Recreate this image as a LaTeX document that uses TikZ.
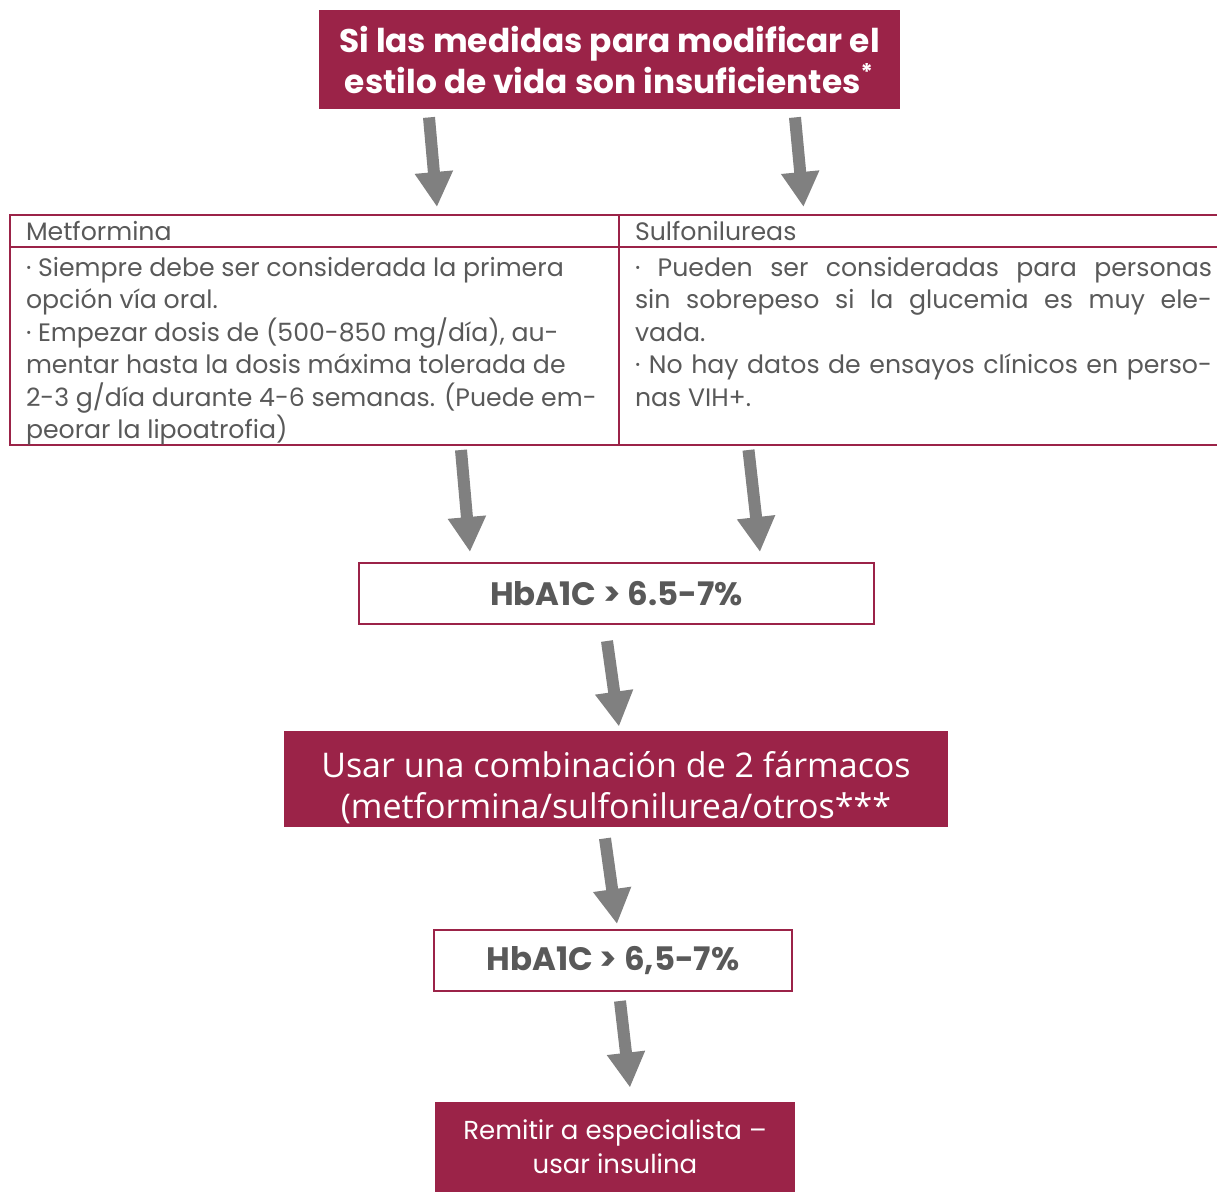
\documentclass[tikz,border=0pt]{standalone}
\usepackage{fontspec}
\setmainfont{Poppins}
\newfontfamily\combofont{Open Sans}
\usetikzlibrary{positioning,arrows.meta}
\definecolor{vino}{HTML}{9B2348}
\definecolor{texto}{HTML}{595959}
\definecolor{flecha}{HTML}{808080}

\begin{document}
\begin{tikzpicture}[x=0.5pt,y=-0.5pt,>={Triangle[width=18pt,length=17.5pt]},
    big arrow/.style={->,color=flecha,line width=6pt},
    dark node/.style={rectangle,fill=vino,text=white,align=center,inner sep=0pt},
    light node/.style={rectangle,draw=vino,line width=1pt,fill=white,text=texto,inner sep=0pt,font=\bfseries\fontsize{16.2}{20}\selectfont},
    cell node/.style={rectangle,draw=vino,line width=1pt,text=texto,anchor=north west,outer sep=0pt,inner xsep=8pt,inner ysep=0pt,font=\fontsize{12.6}{16.25}\selectfont}]

    \useasboundingbox (0,0) rectangle (1217,1191);
    \clip (0,0) rectangle (1217,1191);

    \node[dark node, minimum width=290.5pt, minimum height=49.5pt, font=\bfseries\fontsize{16.4}{20.5}\selectfont] (1) at (609.5,59.5) {Si las medidas para modificar el\\estilo de vida son insuficientes\textsuperscript{*}};

    % table
    \node[cell node, minimum width=304.5pt, minimum height=16pt, text width=288.5pt] (2) at (10,215) {\rule{0pt}{10pt}Metformina};
    \node[cell node, minimum width=304.5pt, minimum height=16pt, text width=288.5pt] (3) at (2.north east) {\rule{0pt}{10pt}Sulfonilureas};
    \node[cell node] (4) at (2.south west) {\parbox[c][99pt][t]{288.5pt}{\raggedright\rule{0pt}{14.5pt}· Siempre debe ser considerada la primera\\ opción vía oral.\\ · Empezar dosis de (500-850 mg/día), au-\\ mentar hasta la dosis máxima tolerada de\\ 2-3 g/día durante 4-6 semanas. (Puede em-\\ peorar la lipoatrofia)}};
    \node[cell node] (5) at (3.south west) {\parbox[c][99pt][t]{288.5pt}{\rule{0pt}{14.5pt}· Pueden ser consideradas para personas\linebreak sin sobrepeso si la glucemia es muy ele-\linebreak vada.\\ · No hay datos de ensayos clínicos en perso-\linebreak nas VIH+.}};

    \node[light node, minimum width=257.5pt, minimum height=30.5pt] (6) at (616.5,593.5) {HbA1C > 6.5-7\%};
    \node[dark node, minimum width=332pt, minimum height=48pt, font=\combofont\fontsize{17}{20.5}\selectfont] (7) at (616,779) {\rule{0pt}{21.5pt}Usar una combinación de 2 fármacos\\(metformina/sulfonilurea/otros***};
    \node[light node, minimum width=179pt, minimum height=30.5pt] (8) at (613,960.5) {HbA1C > 6,5-7\%};
    \node[dark node, minimum width=180pt, minimum height=45pt, font=\fontsize{13}{17}\selectfont] (9) at (615,1147) {Remitir a especialista --\\usar insulina};

    \path[big arrow]
        ([xshift=-90.25pt,yshift=-4pt]1.south) edge ([xshift=61.25pt,yshift=4pt]2.north)
        ([xshift=92.75pt,yshift=-4pt]1.south) edge ([xshift=-60pt,yshift=4pt]3.north)
        ([xshift=73.25pt,yshift=-2.5pt]4.south) edge ([xshift=-73.25pt,yshift=5pt]6.north)
        ([xshift=-87.5pt,yshift=-2.5pt]5.south) edge ([xshift=71.75pt,yshift=5pt]6.north)
        ([xshift=-4.75pt,yshift=-8pt]6.south) edge ([xshift=1.5pt,yshift=2pt]7.north)
        ([xshift=-5.5pt,yshift=-5.5pt]7.south) edge ([xshift=2pt,yshift=2.5pt]8.north)
        ([xshift=3.5pt,yshift=-4.5pt]8.south) edge ([xshift=7.5pt,yshift=7pt]9.north)
    ;
\end{tikzpicture}
\end{document}
